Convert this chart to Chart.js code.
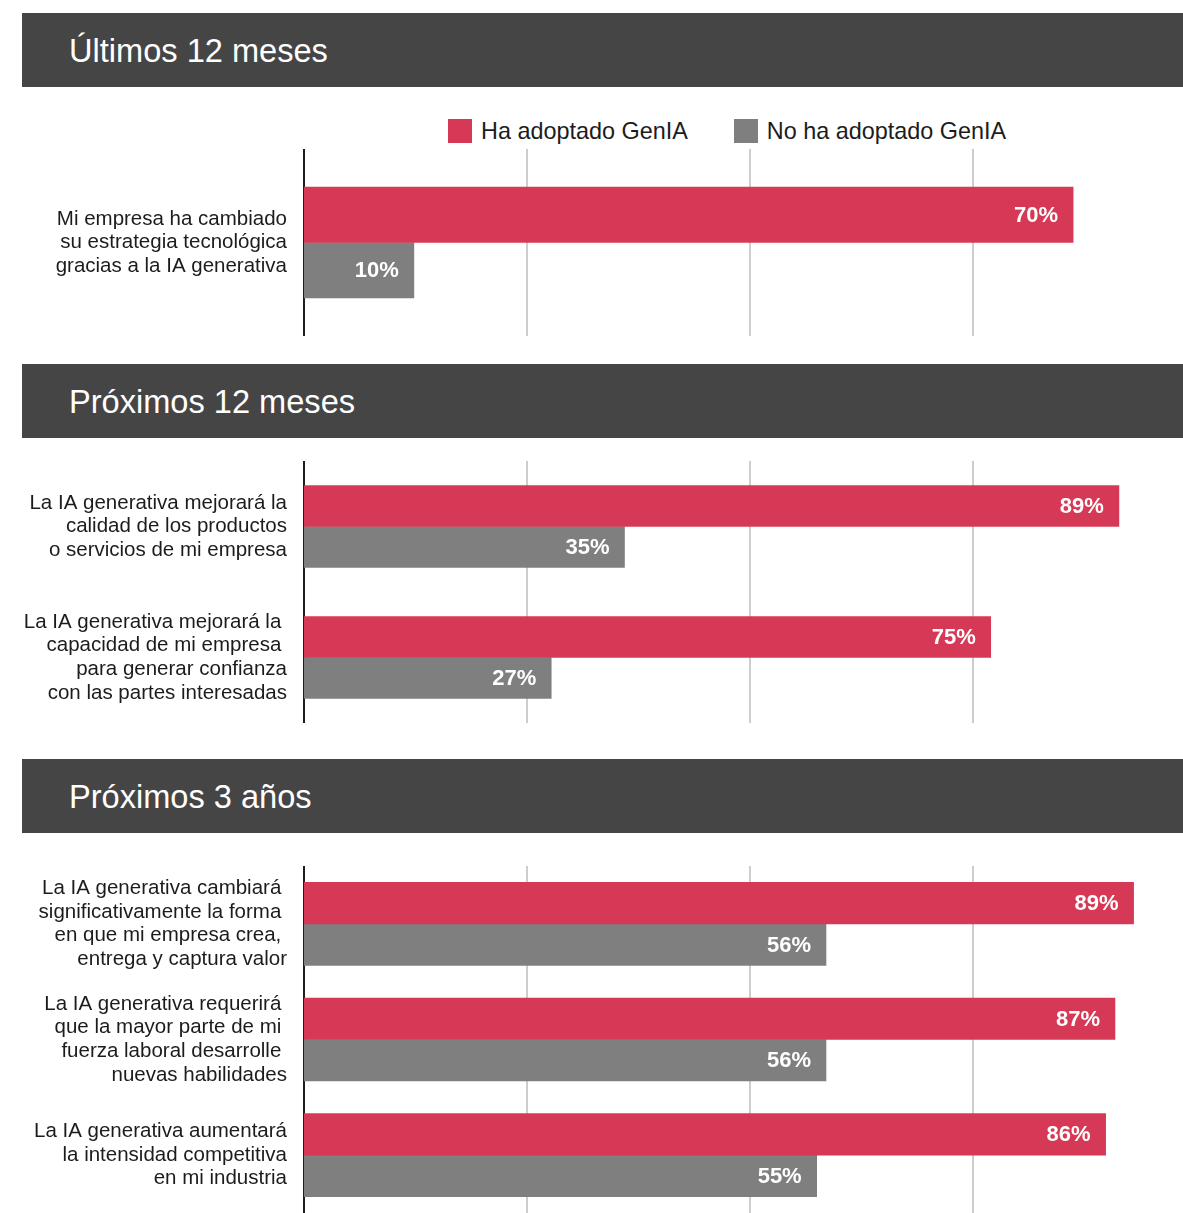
<!DOCTYPE html>
<html lang="es">
<head>
<meta charset="utf-8">
<title>IA generativa</title>
<script src="https://cdn.jsdelivr.net/npm/chart.js@4/dist/chart.umd.min.js"></script>
<style>
  html, body { margin: 0; padding: 0; background: #fff; overflow: hidden; }
  body {
    position: relative;
    width: 1183px;
    height: 1213px;
    font-family: "Liberation Sans", Arial, Helvetica, sans-serif;
  }
  .cabecera {
    position: absolute;
    left: 22px;
    right: 0;
    height: 74px;
    background: #454545;
    color: #fff;
    font-size: 32.6px;
    line-height: 75px;
    padding-left: 47px;
    box-sizing: border-box;
  }
  .leyenda {
    position: absolute;
    top: 119px;
    left: 448px;
    display: flex;
    align-items: center;
    font-size: 23.4px;
    line-height: 24px;
    color: #1c1c1c;
  }
  .leyenda span.cuadro {
    display: inline-block;
    width: 24px;
    height: 24px;
    margin-right: 9px;
  }
  .leyenda .item { display: flex; align-items: center; margin-right: 46px; }
  canvas { position: absolute; left: 0; }
</style>
</head>
<body>

<div class="cabecera" style="top:13px">Últimos 12 meses</div>
<div class="leyenda" id="leyenda"></div>
<canvas id="grafico-ultimos" width="1183" height="187" style="top:149px"></canvas>

<div class="cabecera" style="top:364px">Próximos 12 meses</div>
<canvas id="grafico-proximos" width="1183" height="262" style="top:461px"></canvas>

<div class="cabecera" style="top:759px">Próximos 3 años</div>
<canvas id="grafico-tres-anios" width="1183" height="347" style="top:866px"></canvas>

<script>
const series = ['Ha adoptado GenIA', 'No ha adoptado GenIA'];
const colores = ['#d63955', '#7f7f7f'];

// Últimos 12 meses
const preguntasUltimos = [
  ['Mi empresa ha cambiado', 'su estrategia tecnológica', 'gracias a la IA generativa']
];
const adoptadoUltimos = [70];
const noAdoptadoUltimos = [10];

// Próximos 12 meses
const preguntasProximos = [
  ['La IA generativa mejorará la', 'calidad de los productos', 'o servicios de mi empresa'],
  ['La IA generativa mejorará la ', 'capacidad de mi empresa ', 'para generar confianza', 'con las partes interesadas']
];
const adoptadoProximos = [89, 75];
const noAdoptadoProximos = [35, 27];

// Próximos 3 años
const preguntasTresAnios = [
  ['La IA generativa cambiará ', 'significativamente la forma ', 'en que mi empresa crea, ', 'entrega y captura valor'],
  ['La IA generativa requerirá ', 'que la mayor parte de mi ', 'fuerza laboral desarrolle ', 'nuevas habilidades'],
  ['La IA generativa aumentará', 'la intensidad competitiva', 'en mi industria']
];
const adoptadoTresAnios = [89, 87, 86];
const noAdoptadoTresAnios = [56, 56, 55];

(function () {

  const fuente = '"Liberation Sans", Arial, Helvetica, sans-serif';

  // leyenda común
  const leyenda = document.getElementById('leyenda');
  series.forEach((nombre, i) => {
    const item = document.createElement('div');
    item.className = 'item';
    item.innerHTML = '<span class="cuadro" style="background:' + colores[i] + '"></span>' + nombre;
    leyenda.appendChild(item);
  });

  // porcentaje en blanco al final de cada barra
  const etiquetasValor = {
    id: 'etiquetasValor',
    afterDatasetsDraw(chart) {
      const ctx = chart.ctx;
      ctx.save();
      ctx.font = 'bold 22px ' + fuente;
      ctx.fillStyle = '#ffffff';
      ctx.textAlign = 'right';
      ctx.textBaseline = 'middle';
      chart.data.datasets.forEach((dataset, i) => {
        chart.getDatasetMeta(i).data.forEach((barra, j) => {
          ctx.fillText(dataset.data[j] + '%', barra.x - 15, barra.y + 1);
        });
      });
      ctx.restore();
    }
  };

  // solo las líneas de 25, 50 y 75
  function colorRejilla(c) {
    const v = c.tick ? c.tick.value : 0;
    return (v === 0 || v % 25 !== 0) ? 'rgba(0,0,0,0)' : '#cdcdcd';
  }

  function crearGrafico(id, preguntas, adoptado, noAdoptado, maximo, grosor) {
    return new Chart(document.getElementById(id), {
      type: 'bar',
      data: {
        labels: preguntas,
        datasets: [
          { label: series[0], data: adoptado, backgroundColor: colores[0], barThickness: grosor },
          { label: series[1], data: noAdoptado, backgroundColor: colores[1], barThickness: grosor }
        ]
      },
      options: {
        indexAxis: 'y',
        responsive: false,
        animation: false,
        layout: { padding: 0 },
        scales: {
          x: { display: false, min: 0, max: maximo },
          rejilla: {
            type: 'linear',
            axis: 'x',
            position: 'bottom',
            min: 0,
            max: 98.5,
            ticks: { display: false, stepSize: 25 },
            grid: { drawTicks: false, lineWidth: 2, color: colorRejilla },
            border: { display: false }
          },
          y: {
            grid: { display: false, drawTicks: false },
            border: { display: true, color: '#1e1e1e', width: 2 },
            ticks: {
              autoSkip: false,
              padding: 17,
              color: '#1c1c1c',
              font: { family: fuente, size: 20.5, lineHeight: 1.15 }
            },
            afterFit(escala) {
              escala.width = 304;
              escala.paddingTop = 0;
              escala.paddingBottom = 0;
            }
          }
        },
        plugins: {
          legend: { display: false },
          tooltip: { enabled: false }
        }
      },
      plugins: [etiquetasValor]
    });
  }

  crearGrafico('grafico-ultimos', preguntasUltimos, adoptadoUltimos, noAdoptadoUltimos, 80, 55.5);
  crearGrafico('grafico-proximos', preguntasProximos, adoptadoProximos, noAdoptadoProximos, 96, 41);
  crearGrafico('grafico-tres-anios', preguntasTresAnios, adoptadoTresAnios, noAdoptadoTresAnios, 94.3, 41.5);

})();
</script>
</body>
</html>
